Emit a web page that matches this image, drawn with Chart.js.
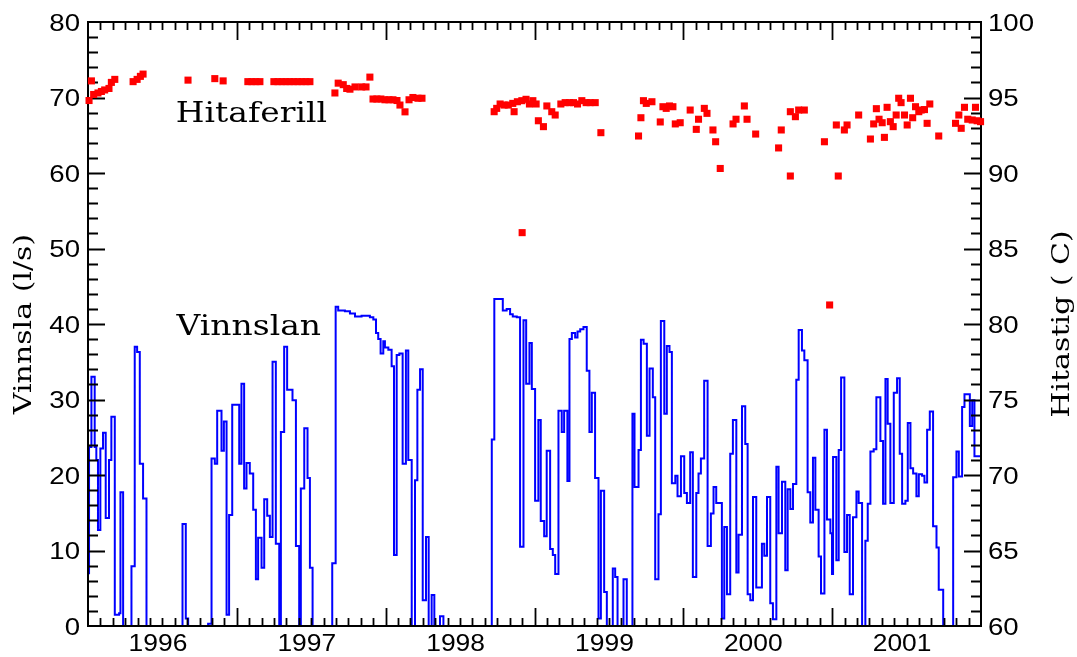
<!DOCTYPE html>
<html>
<head>
<meta charset="utf-8">
<title>Vinnsla og hitastig</title>
<script src="https://cdn.jsdelivr.net/npm/chart.js@4"></script>
<style>
  html, body { margin: 0; padding: 0; background: #fff; }
  canvas { display: block; }
</style>
</head>
<body>
<canvas id="chart" width="1077" height="657"></canvas>
<script>
// Vinnsla (l/s): each value holds from its time (decimal year) until the next one
const flowT = [
  1996.000, 1996.007, 1996.023, 1996.045, 1996.056, 1996.067, 1996.083, 1996.101, 1996.119, 1996.141,
  1996.157, 1996.180, 1996.209, 1996.218, 1996.236, 1996.292, 1996.314, 1996.330, 1996.348, 1996.370,
  1996.393, 1996.635, 1996.657, 1996.673, 1996.807, 1996.830, 1996.852, 1996.868, 1996.897, 1996.913,
  1996.931, 1996.948, 1996.969,
  1997.016, 1997.031, 1997.049, 1997.065, 1997.087, 1997.110, 1997.128, 1997.143, 1997.166, 1997.184,
  1997.204, 1997.222, 1997.240, 1997.262, 1997.285, 1997.296, 1997.318, 1997.338, 1997.374, 1997.397,
  1997.419, 1997.430, 1997.453, 1997.475, 1997.491, 1997.509, 1997.641, 1997.664, 1997.681, 1997.726,
  1997.760, 1997.794, 1997.838, 1997.894, 1997.917, 1997.935, 1997.950, 1997.966, 1997.984, 1997.995,
  1998.018, 1998.040, 1998.056, 1998.074, 1998.092, 1998.114, 1998.136, 1998.152, 1998.175, 1998.197,
  1998.213, 1998.231, 1998.249, 1998.271, 1998.289, 1998.309, 1998.327, 1998.365, 1998.388, 1998.713,
  1998.730, 1998.787, 1998.813, 1998.836, 1998.854, 1998.881, 1998.903, 1998.926, 1998.944, 1998.966,
  1998.982,
  1999.004, 1999.026, 1999.042, 1999.065, 1999.082, 1999.105, 1999.123, 1999.139, 1999.161, 1999.183,
  1999.199, 1999.221, 1999.235, 1999.251, 1999.273, 1999.289, 1999.307, 1999.329, 1999.351, 1999.369,
  1999.385, 1999.407, 1999.430, 1999.446, 1999.468, 1999.486, 1999.526, 1999.542, 1999.558, 1999.598,
  1999.620, 1999.658, 1999.672, 1999.699, 1999.715, 1999.733, 1999.755, 1999.773, 1999.795, 1999.811,
  1999.833, 1999.849, 1999.872, 1999.889, 1999.907, 1999.923, 1999.946, 1999.961, 1999.984,
  2000.006, 2000.024, 2000.046, 2000.064, 2000.087, 2000.102, 2000.118, 2000.140, 2000.163, 2000.185,
  2000.203, 2000.221, 2000.259, 2000.275, 2000.293, 2000.315, 2000.333, 2000.356, 2000.371, 2000.394,
  2000.416, 2000.432, 2000.450, 2000.468, 2000.490, 2000.528, 2000.544, 2000.562, 2000.584, 2000.602,
  2000.625, 2000.640, 2000.663, 2000.685, 2000.701, 2000.719, 2000.737, 2000.759, 2000.775, 2000.797,
  2000.813, 2000.835, 2000.853, 2000.871, 2000.887, 2000.909, 2000.925, 2000.948, 2000.965, 2000.988,
  2000.999,
  2001.006, 2001.028, 2001.044, 2001.060, 2001.082, 2001.100, 2001.118, 2001.140, 2001.163, 2001.178,
  2001.201, 2001.223, 2001.239, 2001.257, 2001.279, 2001.297, 2001.324, 2001.342, 2001.358, 2001.373,
  2001.391, 2001.414, 2001.436, 2001.454, 2001.470, 2001.492, 2001.508, 2001.526, 2001.544, 2001.566,
  2001.582, 2001.604, 2001.620, 2001.638, 2001.656, 2001.678, 2001.701, 2001.716, 2001.746, 2001.813,
  2001.835, 2001.851, 2001.873, 2001.889, 2001.925, 2001.941, 2001.956, 2002.000
];
const flowV = [
  7.0, 23.7, 33.0, 23.7, 22.0, 12.7, 23.5, 25.6, 14.3, 22.0,
  27.7, 1.5, 1.7, 17.7, 0, 7.9, 37.0, 36.3, 21.5, 16.9,
  0, 13.5, 1.0, 0, 0.3, 22.2, 21.5, 28.5, 23.2, 27.1,
  1.5, 14.7, 29.3,
  21.5, 32.1, 18.2, 21.6, 20.2, 15.4, 6.2, 11.7, 7.7, 16.8,
  14.6, 11.8, 35.0, 10.9, 0, 25.7, 37.0, 31.3, 29.9, 10.6,
  0, 18.2, 26.2, 19.6, 7.7, 0, 8.3, 42.3, 41.8, 41.7,
  41.4, 41.0, 41.1, 40.9, 40.6, 38.8, 38.0, 36.1, 37.7, 36.9,
  36.6, 34.4, 9.4, 35.9, 36.1, 21.5, 36.5, 22.0, 0, 19.3,
  31.3, 34.0, 3.4, 11.8, 0, 4.1, 0, 1.3, 0, 24.7,
  43.3, 41.8, 42.0, 41.3, 41.0, 40.9, 10.5, 40.5, 32.1, 37.5,
  31.4,
  16.6, 27.3, 13.9, 11.9, 23.2, 10.2, 9.4, 6.9, 28.5, 25.7,
  28.5, 19.2, 38.0, 38.8, 38.2, 39.0, 39.3, 39.6, 33.8, 25.7,
  30.9, 19.6, 1.0, 17.9, 4.5, 0, 7.6, 6.5, 0, 6.2,
  0, 28.1, 18.4, 23.3, 37.9, 37.4, 25.2, 34.1, 30.3, 6.2,
  14.8, 40.4, 28.1, 37.1, 36.3, 18.9, 19.9, 17.2, 22.5,
  17.6, 16.3, 23.0, 6.5, 17.6, 20.2, 22.2, 32.5, 10.6, 14.9,
  18.4, 16.3, 1.0, 13.1, 4.2, 22.8, 27.3, 7.1, 12.1, 29.1,
  24.1, 4.2, 3.4, 17.1, 5.1, 10.9, 9.3, 17.1, 3.0, 0.9,
  21.1, 12.3, 19.1, 7.4, 18.1, 15.5, 18.8, 32.6, 39.2, 36.5,
  35.2, 17.7, 13.7, 22.3, 15.4, 9.2, 4.3, 26.0, 14.1, 12.3,
  6.9,
  22.4, 8.7, 23.3, 32.9, 9.8, 14.7, 4.2, 14.4, 17.8, 16.3,
  0, 11.3, 16.2, 23.1, 23.4, 30.3, 24.5, 16.2, 32.7, 26.8,
  16.3, 30.9, 32.8, 22.8, 16.2, 16.6, 26.9, 20.9, 20.2, 17.2,
  20.1, 19.9, 19.0, 26.0, 28.4, 13.2, 10.4, 4.8, 0, 19.7,
  23.1, 19.8, 29.0, 30.7, 26.5, 29.9, 22.5, 22.5
];

// Hitaferill (C): measurement times and temperatures
const tempT = [
  1996.007, 1996.023, 1996.038, 1996.067, 1996.090, 1996.112, 1996.141, 1996.157, 1996.180, 1996.303,
  1996.330, 1996.352, 1996.370, 1996.672, 1996.852, 1996.908,
  1997.074, 1997.101, 1997.128, 1997.155, 1997.249, 1997.276, 1997.303, 1997.330, 1997.356, 1997.383,
  1997.410, 1997.437, 1997.464, 1997.491, 1997.659, 1997.681, 1997.715, 1997.738, 1997.760, 1997.794,
  1997.839, 1997.868, 1997.894, 1997.915, 1997.941, 1997.968, 1997.995,
  1998.022, 1998.049, 1998.076, 1998.096, 1998.130, 1998.157, 1998.183, 1998.217, 1998.244, 1998.729,
  1998.746, 1998.769, 1998.796, 1998.824, 1998.854, 1998.863, 1998.885, 1998.915, 1998.917, 1998.943,
  1998.966, 1998.989,
  1999.011, 1999.026, 1999.060, 1999.083, 1999.116, 1999.139, 1999.177, 1999.206, 1999.235, 1999.262,
  1999.289, 1999.318, 1999.347, 1999.374, 1999.408, 1999.446, 1999.699, 1999.715, 1999.732, 1999.751,
  1999.789, 1999.845, 1999.863, 1999.885, 1999.907, 1999.930, 1999.946, 1999.979,
  2000.046, 2000.087, 2000.102, 2000.141, 2000.159, 2000.199, 2000.217, 2000.248, 2000.334, 2000.354,
  2000.410, 2000.428, 2000.486, 2000.640, 2000.658, 2000.719, 2000.719, 2000.753, 2000.775, 2000.813,
  2000.948, 2000.983,
  2001.028, 2001.041, 2001.082, 2001.100, 2001.178, 2001.257, 2001.279, 2001.297, 2001.315, 2001.336,
  2001.351, 2001.369, 2001.391, 2001.410, 2001.430, 2001.447, 2001.463, 2001.486, 2001.504, 2001.526,
  2001.541, 2001.560, 2001.582, 2001.598, 2001.620, 2001.638, 2001.656, 2001.716, 2001.829, 2001.851,
  2001.867, 2001.889, 2001.911, 2001.941, 2001.963, 2001.974, 2001.997
];
const tempV = [
  94.8, 96.1, 95.2, 95.3, 95.4, 95.5, 95.6, 96.0, 96.2, 96.05,
  96.2, 96.4, 96.55, 96.15, 96.25, 96.1,
  96.05, 96.05, 96.05, 96.05, 96.05, 96.05, 96.05, 96.05, 96.05, 96.05,
  96.05, 96.05, 96.05, 96.05, 95.3, 95.95, 95.85, 95.6, 95.55, 95.7,
  95.7, 95.7, 96.35, 94.9, 94.9, 94.9, 94.85,
  94.85, 94.85, 94.8, 94.5, 94.05, 94.85, 95.0, 94.95, 94.95, 94.06,
  94.28, 94.57, 94.5, 94.5, 94.61, 94.06, 94.72, 94.79, 86.05, 94.88,
  94.57, 94.79,
  94.57, 93.46, 93.07, 94.44, 94.06, 93.84, 94.57, 94.66, 94.66, 94.66,
  94.57, 94.79, 94.66, 94.66, 94.66, 92.67, 92.45, 93.66, 94.79, 94.61,
  94.72, 93.38, 94.39, 94.28, 94.44, 94.39, 93.25, 93.33,
  94.17, 92.89, 93.56, 94.28, 93.95, 92.85, 92.07, 90.3, 93.25, 93.56,
  94.44, 93.56, 92.58, 91.66, 92.85, 94.06, 89.8, 93.73, 94.17, 94.17,
  92.07, 81.26,
  93.18, 89.8, 92.85, 93.18, 93.84, 92.25, 93.25, 94.26, 93.56, 93.33,
  92.36, 94.35, 93.4, 93.07, 93.84, 94.95, 94.66, 93.84, 93.18, 94.95,
  93.66, 94.39, 94.06, 94.17, 94.2, 93.29, 94.57, 92.45, 93.29, 93.84,
  92.96, 94.35, 93.56, 93.51, 94.35, 93.46, 93.4
];

const yearLabels = ['1996', '1997', '1998', '1999', '2000', '2001'];
const flowTicks = [0, 10, 20, 30, 40, 50, 60, 70, 80];
const tempTicks = [60, 65, 70, 75, 80, 85, 90, 95, 100];
const seriesNames = ['Hitaferill', 'Vinnslan'];
const axisTitles = ['Vinnsla (l/s)', 'Hitastig ( C)'];

const flowPoints = flowT.map((t, i) => ({ x: t, y: flowV[i] }));
const tempPoints = tempT.map((t, i) => ({ x: t, y: tempV[i] }));

// text drawn wider than the font's own proportions
function wideText(ctx, text, x, y, sx, align) {
    ctx.save();
    ctx.translate(x, y);
    ctx.scale(sx, 1);
    ctx.textAlign = align;
    ctx.textBaseline = 'alphabetic';
    ctx.fillText(text, 0, 0);
    ctx.restore();
}

// frame, inward ticks, tick labels and titles
const framePlugin = {
    id: 'frame',
    afterDatasetDraw(chart, args) {
        if (args.index !== 1) return;
        const { ctx, chartArea: a, scales: { x, y, y2 } } = chart;
        ctx.save();
        ctx.strokeStyle = '#000';
        ctx.lineWidth = 1.8;
        ctx.beginPath();

        // monthly ticks, longer at each new year
        for (let m = 1; m < 12 * yearLabels.length; m++) {
            const px = Math.round(x.getPixelForValue(x.min + m / 12)) + 0.5;
            const len = m % 12 === 0 ? 18 : 8;
            ctx.moveTo(px, a.bottom); ctx.lineTo(px, a.bottom - len);
            ctx.moveTo(px, a.top); ctx.lineTo(px, a.top + len);
        }
        for (let v = y.min + 2; v < y.max; v += 2) {
            const py = Math.round(y.getPixelForValue(v)) + 0.5;
            ctx.moveTo(a.left, py); ctx.lineTo(a.left + (v % 10 === 0 ? 17 : 10), py);
        }
        for (let v = y2.min + 1; v < y2.max; v += 1) {
            const py = Math.round(y2.getPixelForValue(v)) + 0.5;
            ctx.moveTo(a.right, py); ctx.lineTo(a.right - (v % 5 === 0 ? 17 : 10), py);
        }
        ctx.stroke();

        ctx.lineWidth = 2;
        ctx.strokeRect(a.left, a.top, a.right - a.left, a.bottom - a.top);

        ctx.fillStyle = '#000';
        ctx.font = '24px "Liberation Sans", Arial, sans-serif';
        const half = 8.6;
        flowTicks.forEach(v => wideText(ctx, String(v), a.left - 8, y.getPixelForValue(v) + half, 1.15, 'right'));
        tempTicks.forEach(v => wideText(ctx, String(v), a.right + 7, y2.getPixelForValue(v) + half, 1.15, 'left'));
        yearLabels.forEach(lab => {
            const px = x.getPixelForValue(Number(lab) + 0.47);
            wideText(ctx, lab, px, a.bottom + 25, 1.1, 'center');
        });

        ctx.font = '27px "DejaVu Serif", serif';
        wideText(ctx, seriesNames[0], x.getPixelForValue(1996.59), y.getPixelForValue(66.8), 1.22, 'left');
        wideText(ctx, seriesNames[1], x.getPixelForValue(1996.595), y.getPixelForValue(38.5), 1.22, 'left');

        ctx.font = '25px "DejaVu Serif", serif';
        const midY = (a.top + a.bottom) / 2;
        ctx.save();
        ctx.translate(31, midY);
        ctx.rotate(-Math.PI / 2);
        wideText(ctx, axisTitles[0], 0, 0, 1.2, 'center');
        ctx.restore();
        ctx.save();
        ctx.translate(1069, midY);
        ctx.rotate(-Math.PI / 2);
        wideText(ctx, axisTitles[1], 0, 0, 1.2, 'center');
        ctx.restore();
        ctx.restore();
    }
};

const chart = new Chart(document.getElementById('chart').getContext('2d'), {
    type: 'line',
    data: {
        datasets: [
            {
                type: 'scatter',
                label: seriesNames[0],
                data: tempPoints,
                yAxisID: 'y2',
                pointStyle: 'rect',
                pointRadius: 5,
                pointBorderWidth: 0,
                backgroundColor: '#ff0000',
                borderColor: '#ff0000',
                clip: false
            },
            {
                label: seriesNames[1],
                data: flowPoints,
                yAxisID: 'y',
                stepped: true,
                borderColor: '#0000ff',
                borderWidth: 2,
                pointRadius: 0,
                fill: false
            }
        ]
    },
    options: {
        responsive: false,
        animation: false,
        devicePixelRatio: 1,
        layout: { padding: { left: 88, right: 96, top: 22, bottom: 31 } },
        scales: {
            x: { type: 'linear', min: 1996, max: 2002, display: false },
            y: { min: 0, max: 80, display: false },
            y2: { position: 'right', min: 60, max: 100, display: false }
        },
        plugins: {
            legend: { display: false },
            tooltip: { enabled: false }
        }
    },
    plugins: [framePlugin]
});
</script>
</body>
</html>
